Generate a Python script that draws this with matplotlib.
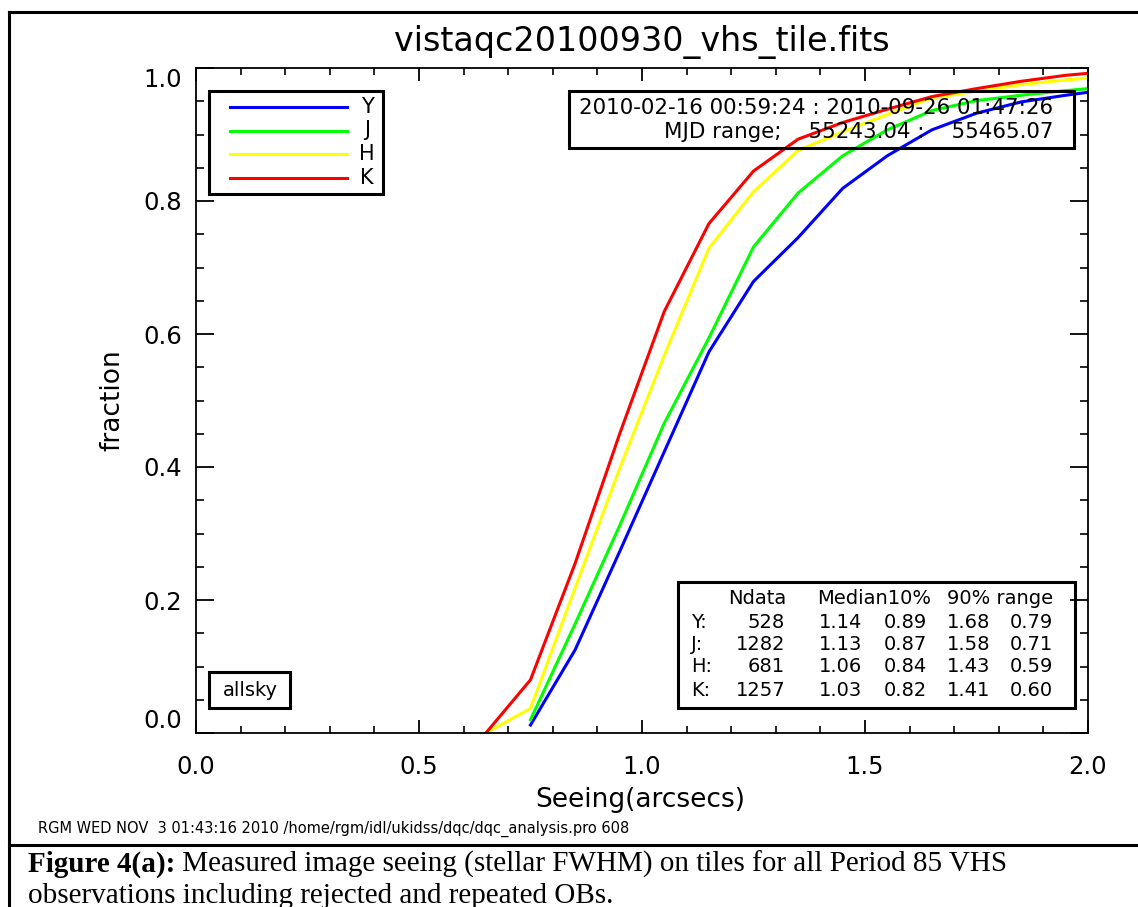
import matplotlib
matplotlib.use("Agg")
import matplotlib.pyplot as plt
from matplotlib.patches import Rectangle
from matplotlib.lines import Line2D

# cumulative seeing distributions per filter (bin centres in arcsec)
seeing_kh = [0.65, 0.75, 0.85, 0.95, 1.05, 1.15, 1.25, 1.35, 1.45, 1.55, 1.65, 1.75, 1.85, 1.95, 2.05]
seeing_yj = [0.75, 0.85, 0.95, 1.05, 1.15, 1.25, 1.35, 1.45, 1.55, 1.65, 1.75, 1.85, 1.95, 2.05]
frac_y = [0.012, 0.125, 0.273, 0.423, 0.573, 0.679, 0.745, 0.819, 0.868, 0.907, 0.932, 0.949, 0.959, 0.968]
frac_j = [0.020, 0.164, 0.312, 0.466, 0.594, 0.731, 0.812, 0.868, 0.907, 0.936, 0.951, 0.959, 0.966, 0.972]
frac_h = [0.0, 0.037, 0.218, 0.398, 0.568, 0.729, 0.814, 0.876, 0.904, 0.930, 0.955, 0.965, 0.975, 0.982, 0.988]
frac_k = [0.0, 0.080, 0.255, 0.450, 0.634, 0.766, 0.845, 0.893, 0.918, 0.938, 0.957, 0.969, 0.980, 0.989, 0.995]

filters = ["Y", "J", "H", "K"]
colors = ["#0000ff", "#00ff00", "#ffff00", "#ff0000"]

# summary table
ndata = [528, 1282, 681, 1257]
median = [1.14, 1.13, 1.06, 1.03]
p10 = [0.89, 0.87, 0.84, 0.82]
p90 = [1.68, 1.58, 1.43, 1.41]
prange = [0.79, 0.71, 0.59, 0.60]

W, H = 1138, 907


def fx(x):
    return x / W


def fy(y):
    return 1 - y / H


fig = plt.figure(figsize=(W / 100, H / 100), dpi=100)
fig.patch.set_facecolor("white")
ax = fig.add_axes([fx(196), fy(733), (1088 - 196) / W, (733 - 68) / H])

series = [(seeing_yj, frac_y), (seeing_yj, frac_j), (seeing_kh, frac_h), (seeing_kh, frac_k)]
for (xs, ys), c in zip(series, colors):
    ax.plot(xs, ys, color=c, lw=2.2, solid_joinstyle="round")

ax.set_xlim(0, 2.0)
ax.set_ylim(0, 1.0)
ax.set_xticks([0, 0.5, 1.0, 1.5, 2.0])
ax.set_xticks([i / 10 for i in range(21)], minor=True)
ax.set_xticklabels(["0.0", "0.5", "1.0", "1.5", "2.0"])
ax.set_yticks([0, 0.2, 0.4, 0.6, 0.8, 1.0])
ax.set_yticks([i / 20 for i in range(21)], minor=True)
ylabs = ax.set_yticklabels(["0.0", "0.2", "0.4", "0.6", "0.8", "1.0"])
ylabs[0].set_va("bottom")
ylabs[-1].set_va("top")

for s in ax.spines.values():
    s.set_linewidth(1.3)
ax.tick_params(which="both", direction="in", top=True, right=True, colors="black")
ax.tick_params(axis="x", which="major", length=9.5, width=1.3, pad=16, labelsize=17.5)
ax.tick_params(axis="x", which="minor", length=5, width=1.2)
ax.tick_params(axis="y", which="major", length=13, width=1.3, pad=10, labelsize=17.5)
ax.tick_params(axis="y", which="minor", length=6, width=1.2)

fig.text(fx(642), fy(42), "vistaqc20100930_vhs_tile.fits", ha="center", va="center", fontsize=24)
fig.text(fx(640), fy(800), "Seeing(arcsecs)", ha="center", va="center", fontsize=19)
fig.text(fx(112), fy(400), "fraction", ha="center", va="center", rotation=90, fontsize=19)


def box(x0, y0, x1, y1, lw=2.2):
    fig.patches.append(Rectangle((fx(x0), fy(y1)), (x1 - x0) / W, (y1 - y0) / H,
                                 transform=fig.transFigure, fill=False,
                                 edgecolor="black", lw=lw, zorder=5))


# filter key
box(209, 91, 383, 194)
for i, (name, c) in enumerate(zip(filters, colors)):
    yy = fy(107 + 23.5 * i)
    fig.lines.append(Line2D([fx(230), fx(347)], [yy, yy], color=c, lw=2.2,
                            transform=fig.transFigure))
    fig.text(fx(367), yy, name, ha="center", va="center", fontsize=15)

# observing period
box(569, 91, 1074, 148)
fig.text(fx(1053), fy(108), "2010-02-16 00:59:24 : 2010-09-26 01:47:26",
         ha="right", va="center", fontsize=15.4)
fig.text(fx(1053), fy(132), "MJD range;    55243.04 :    55465.07",
         ha="right", va="center", fontsize=15.4)

# statistics table
box(678, 582, 1075, 708)
ty = [599, 622, 645, 667, 690]
fig.text(fx(786), fy(ty[0]), "Ndata", ha="right", va="center", fontsize=14)
fig.text(fx(817), fy(ty[0]), "Median10%", ha="left", va="center", fontsize=14)
fig.text(fx(1053), fy(ty[0]), "90% range", ha="right", va="center", fontsize=14)
for i, name in enumerate(filters):
    yy = fy(ty[i + 1])
    fig.text(fx(691), yy, name + ":", ha="left", va="center", fontsize=14)
    fig.text(fx(785), yy, str(ndata[i]), ha="right", va="center", fontsize=14)
    fig.text(fx(862), yy, f"{median[i]:.2f}", ha="right", va="center", fontsize=14)
    fig.text(fx(927), yy, f"{p10[i]:.2f}", ha="right", va="center", fontsize=14)
    fig.text(fx(990), yy, f"{p90[i]:.2f}", ha="right", va="center", fontsize=14)
    fig.text(fx(1053), yy, f"{prange[i]:.2f}", ha="right", va="center", fontsize=14)

# sky condition tag
box(209, 672, 290, 708)
fig.text(fx(250), fy(690), "allsky", ha="center", va="center", fontsize=14)

fig.text(fx(38), fy(829),
         "RGM WED NOV  3 01:43:16 2010 /home/rgm/idl/ukidss/dqc/dqc_analysis.pro 608",
         ha="left", va="center", fontsize=10.5)

# page frame around the plot and caption
fig.lines.append(Line2D([fx(9), fx(9)], [fy(12), 0], color="black", lw=2.2,
                        transform=fig.transFigure))
fig.lines.append(Line2D([fx(9), 1], [fy(12), fy(12)], color="black", lw=2.2,
                        transform=fig.transFigure))
fig.lines.append(Line2D([fx(9), 1], [fy(845), fy(845)], color="black", lw=2.2,
                        transform=fig.transFigure))

serif = "Liberation Serif"
bold = fig.text(fx(28), fy(872), "Figure 4(a):", family=serif, weight="bold",
                fontsize=21, va="baseline", ha="left")
fig.canvas.draw()
bb = bold.get_window_extent()
fig.text(bb.x1 / W, fy(872), " Measured image seeing (stellar FWHM) on tiles for all Period 85 VHS",
         family=serif, fontsize=21, va="baseline", ha="left")
fig.text(fx(28), fy(903), "observations including rejected and repeated OBs.",
         family=serif, fontsize=21, va="baseline", ha="left")

fig.savefig("out.png", dpi=100)
